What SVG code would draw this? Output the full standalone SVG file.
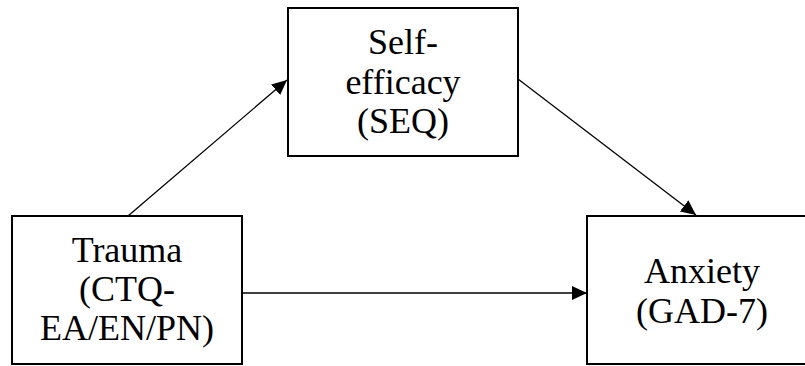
<svg xmlns="http://www.w3.org/2000/svg" width="805" height="366" viewBox="0 0 805 366">
  <style>
    .box { fill: #ffffff; stroke: #000000; stroke-width: 2; }
    .label { font-family: "Liberation Serif", "Times New Roman", serif; font-size: 36px; fill: #000000; text-anchor: middle; }
    .edge { stroke: #000000; stroke-width: 1.3; fill: none; marker-end: url(#arrow); }
  </style>
  <defs>
    <marker id="arrow" markerUnits="userSpaceOnUse" markerWidth="16" markerHeight="16" viewBox="0 0 16 16" refX="15" refY="8" orient="auto">
      <path d="M0,1 L15,8 L0,15 Z" fill="#000000"/>
    </marker>
  </defs>
  <rect width="805" height="366" fill="#ffffff"/>

  <!-- connectors -->
  <g id="connectors">
    <line class="edge" x1="128" y1="216" x2="287" y2="80"/>
    <line class="edge" x1="518" y1="79" x2="696" y2="215"/>
    <line class="edge" x1="242" y1="293" x2="587" y2="293"/>
  </g>

  <g id="trauma">
    <rect class="box" x="12" y="216" width="230" height="148"/>
    <text class="label" x="127" y="262">Trauma</text>
    <text class="label" x="127" y="301">(CTQ-</text>
    <text class="label" x="127" y="340">EA/EN/PN)</text>
  </g>

  <g id="self-efficacy">
    <rect class="box" x="288" y="8" width="230" height="148"/>
    <text class="label" x="403" y="54">Self-</text>
    <text class="label" x="403" y="93.5">efficacy</text>
    <text class="label" x="403" y="133">(SEQ)</text>
  </g>

  <g id="anxiety">
    <rect class="box" x="587" y="216" width="230" height="148"/>
    <text class="label" x="702" y="283">Anxiety</text>
    <text class="label" x="702" y="323">(GAD-7)</text>
  </g>
</svg>
